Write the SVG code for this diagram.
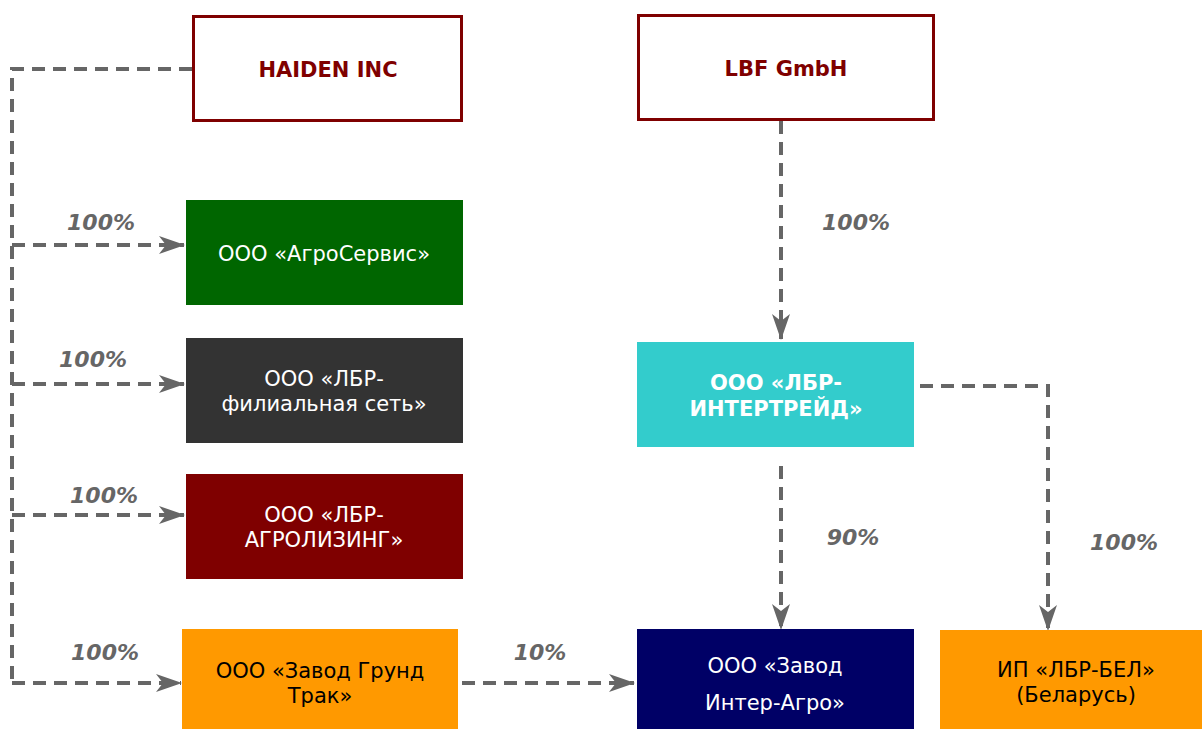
<svg xmlns="http://www.w3.org/2000/svg" width="1202" height="729" viewBox="0 0 1202 729">
<style>
.t{font-family:"DejaVu Sans","Liberation Sans",sans-serif;font-size:21px;text-anchor:middle}
.w{fill:#ffffff}
.k{fill:#000000}
.h{fill:#7f0000;font-weight:bold;font-size:21px}
.b{font-weight:bold}
.lbl{font-family:"DejaVu Sans","Liberation Sans",sans-serif;font-size:22px;font-weight:bold;font-style:italic;fill:#666666;text-anchor:middle}
.c{fill:none;stroke:#666666;stroke-width:4;stroke-dasharray:13,8}
</style>
<defs>
<marker id="ar" viewBox="0 0 26 18" refX="25" refY="9" markerWidth="26" markerHeight="18" markerUnits="userSpaceOnUse" orient="auto">
<path d="M0,0 L26,9 L0,18 L7,9 Z" fill="#666666"/>
</marker>
</defs>
<rect width="1202" height="729" fill="#ffffff"/>
<g id="connectors">
<path class="c" d="M192,69 H12 V683"/>
<path class="c" d="M12,245 H184" marker-end="url(#ar)"/>
<path class="c" d="M12,384 H184" marker-end="url(#ar)"/>
<path class="c" d="M12,515 H184" marker-end="url(#ar)"/>
<path class="c" d="M12,683 H181" marker-end="url(#ar)"/>
<path class="c" d="M462,683 H634" marker-end="url(#ar)"/>
<path class="c" d="M781,121 V339" marker-end="url(#ar)"/>
<path class="c" d="M781,466 V629" marker-end="url(#ar)"/>
<path class="c" d="M920,386 H1048 V630" marker-end="url(#ar)"/>
</g>
<g id="labels">
<text class="lbl" x="101" y="230">100%</text>
<text class="lbl" x="93" y="367">100%</text>
<text class="lbl" x="104" y="503">100%</text>
<text class="lbl" x="105" y="660">100%</text>
<text class="lbl" x="540" y="660">10%</text>
<text class="lbl" x="856" y="230">100%</text>
<text class="lbl" x="853" y="545">90%</text>
<text class="lbl" x="1124" y="550">100%</text>
</g>
<g id="haiden">
<rect x="193.5" y="16.5" width="268" height="104" fill="#ffffff" stroke="#7f0000" stroke-width="3"/>
<text class="t h" x="328" y="77">HAIDEN INC</text>
</g>
<g id="lbf">
<rect x="638.5" y="15.5" width="295" height="104" fill="#ffffff" stroke="#7f0000" stroke-width="3"/>
<text class="t h" x="786" y="76">LBF GmbH</text>
</g>
<g id="agroservis">
<rect x="186" y="200" width="277" height="105" fill="#006600"/>
<text class="t w" x="324" y="261">ООО «АгроСервис»</text>
</g>
<g id="filial">
<rect x="186" y="338" width="277" height="105" fill="#333333"/>
<text class="t w" x="324" y="386">ООО «ЛБР-</text>
<text class="t w" x="324" y="411">филиальная сеть»</text>
</g>
<g id="agrolizing">
<rect x="186" y="474" width="277" height="105" fill="#7f0000"/>
<text class="t w" x="324" y="522">ООО «ЛБР-</text>
<text class="t w" x="324" y="547">АГРОЛИЗИНГ»</text>
</g>
<g id="grund">
<rect x="182" y="629" width="276" height="100" fill="#ff9900"/>
<text class="t k" x="320" y="678">ООО «Завод Грунд</text>
<text class="t k" x="320" y="703">Трак»</text>
</g>
<g id="intertrade">
<rect x="637" y="342" width="277" height="105" fill="#33cccc"/>
<text class="t w b" x="776" y="390">ООО «ЛБР-</text>
<text class="t w b" x="776" y="416">ИНТЕРТРЕЙД»</text>
</g>
<g id="interagro">
<rect x="637" y="629" width="277" height="100" fill="#000066"/>
<text class="t w" x="775" y="673">ООО «Завод</text>
<text class="t w" x="775" y="710">Интер-Агро»</text>
</g>
<g id="lbrbel">
<rect x="940" y="630" width="262" height="99" fill="#ff9900"/>
<text class="t k" x="1076" y="677">ИП «ЛБР-БЕЛ»</text>
<text class="t k" x="1076" y="702">(Беларусь)</text>
</g>
</svg>
